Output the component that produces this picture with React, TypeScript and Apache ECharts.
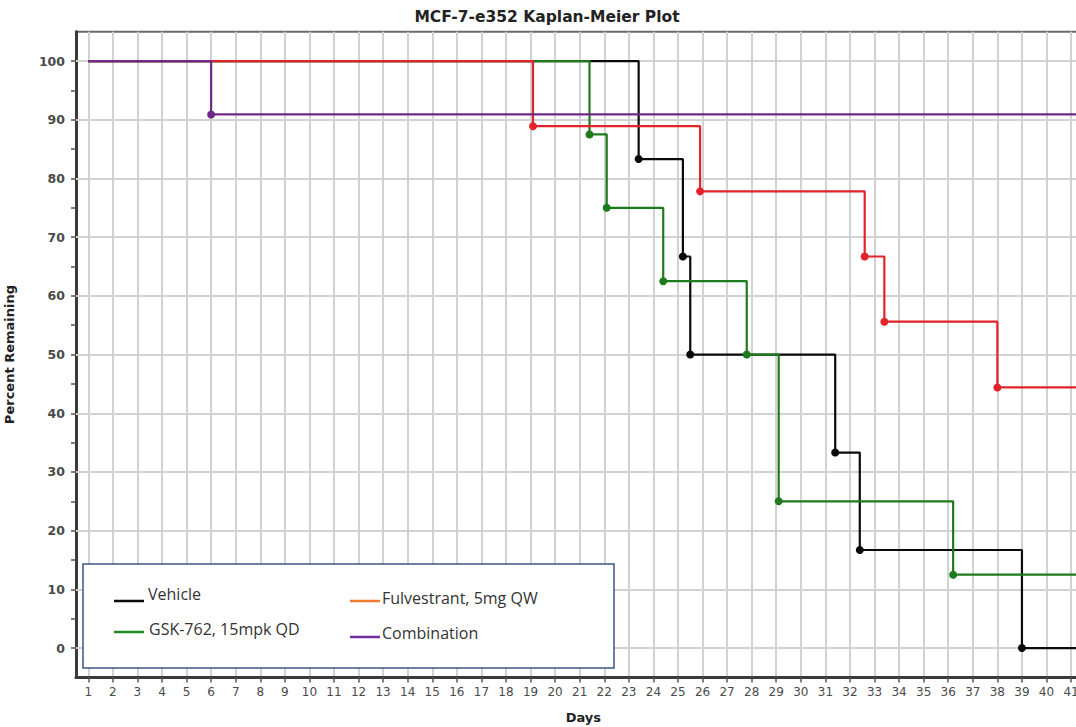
import React, { useEffect, useRef } from "react";
import * as echarts from "echarts";

// ---- data ----
const dayTicks = Array.from({ length: 41 }, (_, i) => i + 1);
const percentLabels = [0, 10, 20, 30, 40, 50, 60, 70, 80, 90, 100];
const percentTicks = [0, 5, 10, 15, 20, 25, 30, 35, 40, 45, 50, 55, 60, 65, 70, 75, 80, 85, 90, 95, 100];

const vehicleDays = [1, 23.4, 25.2, 25.5, 31.4, 32.4, 39.0, 42];
const vehiclePct = [100, 83.3, 66.7, 50, 33.3, 16.7, 0, 0];

const gskDays = [1, 21.4, 22.1, 24.4, 27.8, 29.1, 36.2, 42];
const gskPct = [100, 87.5, 75, 62.5, 50, 25, 12.5, 12.5];

const fulvDays = [1, 19.1, 25.9, 32.6, 33.4, 38.0, 42];
const fulvPct = [100, 88.9, 77.8, 66.7, 55.6, 44.4, 44.4];

const comboDays = [1, 6.0, 42];
const comboPct = [100, 90.9, 90.9];

const seriesNames = ["Vehicle", "GSK-762, 15mpk QD", "Fulvestrant, 5mg QW", "Combination"];
const lineColors = ["#0a0a0a", "#1d7a1d", "#e3222a", "#6e2a86"];
const legendColors = ["#0a0a0a", "#1f8a1f", "#f07a30", "#7030a0"];

function toData(days: number[], pct: number[]) {
  return days.map((d, i) => {
    const item: any = { value: [d, pct[i]] };
    if (i === 0 || i === days.length - 1) item.symbol = "none";
    return item;
  });
}

export default function App() {
  const ref = useRef<HTMLDivElement>(null);
  useEffect(() => {
    if (!ref.current) return;
    const chart = echarts.init(ref.current, null, { renderer: "svg" });
    const all = [
      toData(vehicleDays, vehiclePct),
      toData(gskDays, gskPct),
      toData(fulvDays, fulvPct),
      toData(comboDays, comboPct),
    ];
    const xMin = 0.5;
    const xMax = 41.8;
    const pxPerDay = 24.57;
    const gridLeft = 76;
    const legendFont = "'Open Sans', 'Noto Sans', sans-serif";
    const legendPos = [
      { lx: 114, ly: 601, tx: 148, ty: 594 },
      { lx: 114, ly: 632, tx: 149, ty: 629 },
      { lx: 350, ly: 601, tx: 382, ty: 598 },
      { lx: 350, ly: 637, tx: 382, ty: 633 },
    ];
    chart.setOption({
      animation: false,
      backgroundColor: "#ffffff",
      grid: {
        left: gridLeft,
        top: 31.7,
        width: (xMax - xMin) * pxPerDay,
        height: 645.7,
        show: true,
        containLabel: false,
        outerBoundsMode: "none",
        borderColor: "#6a6a6a",
        borderWidth: 2,
        backgroundColor: "#ffffff",
      },
      xAxis: {
        type: "value",
        min: xMin,
        max: xMax,
        name: "Days",
        nameLocation: "middle",
        nameGap: 34,
        nameTextStyle: { fontFamily: "DejaVu Sans", fontWeight: "bold", fontSize: 13, color: "#222" },
        axisLine: { show: true, onZero: false, lineStyle: { color: "#3a3a3a", width: 3 } },
        axisTick: { show: true, customValues: dayTicks, length: 5, lineStyle: { color: "#555", width: 1.5 } },
        axisLabel: {
          customValues: dayTicks,
          fontFamily: "DejaVu Sans",
          fontSize: 12,
          color: "#4a4a4a",
          margin: 9,
        },
        splitLine: { show: true, lineStyle: { color: "#d2d2d2", width: 2 } },
      },
      yAxis: {
        type: "value",
        min: -5,
        max: 105,
        name: "Percent Remaining",
        nameLocation: "middle",
        nameGap: 60,
        nameTextStyle: { fontFamily: "DejaVu Sans", fontWeight: "bold", fontSize: 13, color: "#222" },
        axisLine: { show: true, onZero: false, lineStyle: { color: "#3a3a3a", width: 3 } },
        axisTick: { show: true, customValues: percentTicks, length: 5, lineStyle: { color: "#555", width: 1.5 } },
        axisLabel: {
          customValues: percentLabels,
          fontFamily: "DejaVu Sans",
          fontWeight: "bold",
          fontSize: 12.5,
          color: "#4a4a4a",
          margin: 11,
        },
        splitLine: { show: false },
      },
      series: [
        {
          type: "line",
          name: "hgrid",
          data: [],
          silent: true,
          z: 1,
          markLine: {
            silent: true,
            z: 1,
            symbol: "none",
            label: { show: false },
            lineStyle: { color: "#d2d2d2", width: 2, type: "solid" },
            data: percentLabels.map((v) => ({ yAxis: v })),
          },
        },
        ...all.map((data, i) => ({
          type: "line",
          name: seriesNames[i],
          step: "end",
          data,
          symbol: "circle",
          symbolSize: 8,
          showSymbol: true,
          itemStyle: { color: lineColors[i] },
          lineStyle: { color: lineColors[i], width: 2.2 },
          z: 3 + i,
        })),
      ],
      graphic: [
        {
          type: "text",
          x: 547,
          y: 17,
          style: {
            text: "MCF-7-e352 Kaplan-Meier Plot",
            fontFamily: "DejaVu Sans",
            fontWeight: "bold",
            fontSize: 15.5,
            fill: "#222",
            align: "center",
            verticalAlign: "middle",
          },
        },
        {
          type: "rect",
          z: 100,
          shape: { x: 83, y: 564, width: 531, height: 104 },
          style: { fill: "#ffffff", stroke: "#3d5585", lineWidth: 1.5 },
        },
        ...legendPos.flatMap((p, i) => [
          {
            type: "line",
            z: 101,
            shape: { x1: p.lx, y1: p.ly, x2: p.lx + 30, y2: p.ly },
            style: { stroke: legendColors[i], lineWidth: 2.5 },
          },
          {
            type: "text",
            z: 101,
            x: p.tx,
            y: p.ty,
            style: {
              text: seriesNames[i],
              fontFamily: legendFont,
              fontSize: 16,
              fill: "#333",
              align: "left",
              verticalAlign: "middle",
            },
          },
        ]),
      ],
    });
    return () => chart.dispose();
  }, []);
  return (
    <div style={{ position: "fixed", left: 0, top: 0, width: 1076, height: 727, overflow: "hidden", background: "#fff" }}>
      <div ref={ref} style={{ width: 1100, height: 727 }} />
    </div>
  );
}
